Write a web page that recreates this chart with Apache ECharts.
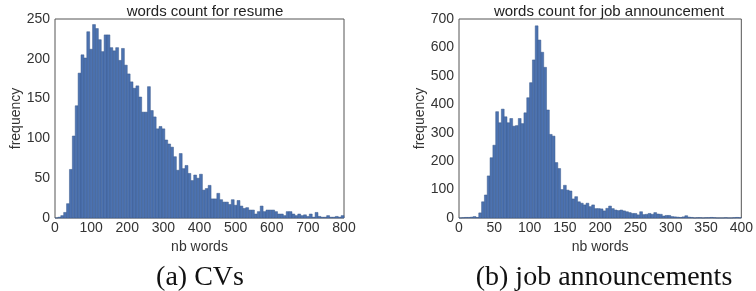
<!DOCTYPE html>
<html><head><meta charset="utf-8">
<script src="https://cdn.jsdelivr.net/npm/echarts@6/dist/echarts.min.js"></script>
<style>html,body{margin:0;padding:0;background:#fff}#c{width:756px;height:291px}</style>
</head><body><div id="c"></div>
<script>
// Histogram 1: words count for resume (100 bins of width 8 over 0..800)
const cvBinWidth = 8;
const cvCounts = [
  0, 1, 3, 7, 18, 61, 103, 141, 182, 205,
  201, 234, 212, 243, 238, 224, 209, 230, 230, 214,
  210, 214, 198, 213, 192, 181, 171, 163, 166, 152,
  133, 133, 165, 135, 127, 112, 115, 112, 98, 93,
  89, 77, 60, 81, 62, 66, 56, 47, 54, 50,
  55, 35, 37, 41, 24, 24, 31, 23, 20, 20,
  17, 23, 16, 22, 15, 12, 13, 10, 10, 5,
  8, 15, 8, 10, 10, 10, 8, 5, 5, 3,
  8, 8, 5, 3, 5, 3, 4, 2, 5, 1,
  7, 2, 1, 1, 3, 1, 1, 2, 1, 3
];
// Histogram 2: words count for job announcement (100 bins of width 4 over 0..400)
const jobBinWidth = 4;
const jobCounts = [
  0, 1, 2, 2, 3, 5, 2, 18, 57, 81,
  148, 212, 256, 374, 335, 383, 356, 335, 350, 323,
  325, 350, 332, 370, 423, 476, 556, 676, 626, 583,
  530, 380, 294, 288, 195, 174, 100, 115, 98, 95,
  67, 75, 57, 52, 46, 52, 40, 46, 33, 33,
  32, 25, 34, 42, 33, 28, 26, 28, 25, 22,
  19, 16, 16, 11, 22, 12, 13, 16, 13, 19,
  14, 13, 7, 9, 9, 5, 4, 3, 2, 4,
  8, 3, 2, 0, 1, 1, 0, 1, 1, 2,
  1, 0, 0, 0, 1, 0, 0, 1, 2, 1
];
const titles = ['words count for resume', 'words count for job announcement'];
const captions = ['(a) CVs', '(b) job announcements'];
const xLabel = 'nb words';
const yLabel = 'frequency';

function toBins(counts, w) {
  return counts.map((c, i) => [i * w, (i + 1) * w, c]);
}

const FILL = '#4c72b0';
const EDGE = '#3a5a8c';
function renderBar(params, api) {
  const p0 = api.coord([api.value(0), api.value(2)]);
  const p1 = api.coord([api.value(1), 0]);
  return {
    type: 'rect',
    shape: { x: p0[0], y: p0[1], width: p1[0] - p0[0], height: p1[1] - p0[1] },
    style: { fill: FILL, stroke: EDGE, lineWidth: 0.5 }
  };
}

const txt = { color: '#333', fontFamily: 'Liberation Sans', fontSize: 14 };
function xAx(idx, max, interval) {
  return {
    gridIndex: idx, type: 'value', min: 0, max: max, interval: interval,
    axisLine: { show: false }, axisTick: { show: false }, splitLine: { show: false },
    axisLabel: Object.assign({ margin: 3 }, txt),
    name: xLabel, nameLocation: 'middle', nameGap: 20, nameTextStyle: txt
  };
}
function yAx(idx, max, interval) {
  return {
    gridIndex: idx, type: 'value', min: 0, max: max, interval: interval,
    axisLine: { show: false }, axisTick: { show: false }, splitLine: { show: false },
    axisLabel: Object.assign({ margin: 5 }, txt),
    name: yLabel, nameLocation: 'middle', nameGap: 29, nameTextStyle: txt
  };
}

const chart = echarts.init(document.getElementById('c'), null, { renderer: 'canvas' });
chart.setOption({
  animation: false,
  backgroundColor: '#fff',
  grid: [
    { left: 55, top: 19, width: 289, height: 199, show: true, borderColor: '#555', borderWidth: 1, backgroundColor: 'transparent' },
    { left: 459, top: 19, width: 289, height: 199, show: true, borderColor: '#555', borderWidth: 1, backgroundColor: 'transparent' }
  ],
  title: [
    { text: titles[0], left: 200, top: -1, textAlign: 'center', textStyle: { color: '#222', fontFamily: 'Liberation Sans', fontSize: 15, fontWeight: 'normal' } },
    { text: titles[1], left: 604, top: -1, textAlign: 'center', textStyle: { color: '#222', fontFamily: 'Liberation Sans', fontSize: 15, fontWeight: 'normal' } },
    { text: captions[0], left: 195, top: 259, textAlign: 'center', textStyle: { color: '#111', fontFamily: 'Liberation Serif', fontSize: 28, fontWeight: 'normal' } },
    { text: captions[1], left: 599, top: 259, textAlign: 'center', textStyle: { color: '#111', fontFamily: 'Liberation Serif', fontSize: 28, fontWeight: 'normal' } }
  ],
  xAxis: [xAx(0, 800, 100), xAx(1, 400, 50)],
  yAxis: [yAx(0, 250, 50), yAx(1, 700, 100)],
  series: [
    { type: 'custom', xAxisIndex: 0, yAxisIndex: 0, renderItem: renderBar, encode: { x: [0, 1], y: 2 }, data: toBins(cvCounts, cvBinWidth) },
    { type: 'custom', xAxisIndex: 1, yAxisIndex: 1, renderItem: renderBar, encode: { x: [0, 1], y: 2 }, data: toBins(jobCounts, jobBinWidth) }
  ]
});
</script></body></html>
